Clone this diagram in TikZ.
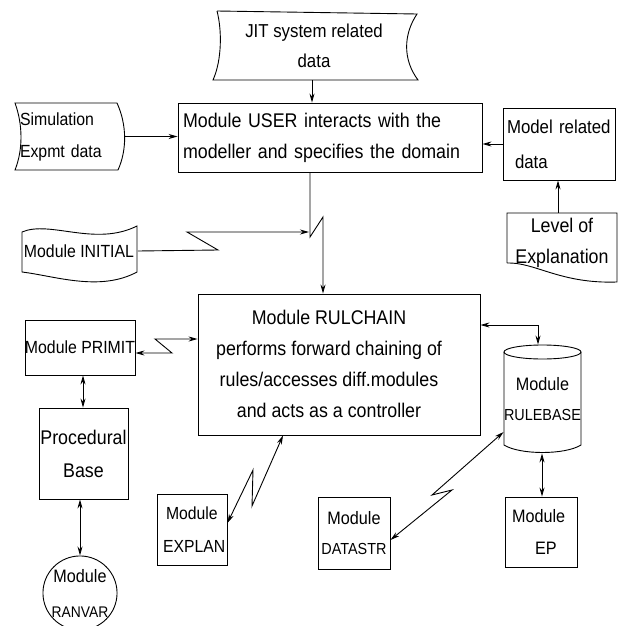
\documentclass[tikz,border=0pt]{standalone}
\usepackage{fontspec}
\setmainfont[FakeStretch=0.9]{Liberation Sans}
\usetikzlibrary{arrows.meta,calc}
\newcommand{\fsz}[1]{\fontsize{#1}{32}\selectfont}
\begin{document}
\begin{tikzpicture}[x=1pt,y=-1pt,line width=0.9pt,
  tip/.tip={Stealth[length=9pt,width=5pt]},
  arr/.style={-tip},
  darr/.style={tip-tip},
  box/.style={draw,rectangle,inner sep=0pt,align=center},
  txt/.style={inner sep=0pt,align=center},
  fa/.style={font=\fontsize{19.8}{31}\selectfont},
  fb/.style={font=\fontsize{18.7}{30}\selectfont},
  fc/.style={font=\fontsize{17.6}{32}\selectfont},
  fe/.style={font=\fontsize{16}{30}\selectfont}]
\useasboundingbox (0,0) rectangle (622,626);

% ---- nodes ----
\node[txt,fb,minimum width=200pt,minimum height=68pt] (jit) at (314,46) {JIT system related\\data};
\node[box,fa,minimum width=304pt,minimum height=69pt,text width=294pt,inner xsep=5pt,align=left] (user) at (330,137.5)
  {Module USER interacts with the\\modeller and specifies the domain};
\node[txt,fc,minimum width=110pt,minimum height=67pt,text width=100pt,inner xsep=5pt,align=left] (sim) at (70,136.5)
  {Simulation\\Expmt data};
\node[box,font=\fontsize{18.7}{35}\selectfont,minimum width=112pt,minimum height=72pt,text width=104pt,inner xsep=4pt,align=left] (model) at (559,144)
  {Model related\\\hspace*{8pt}data};
\node[txt,fa,minimum width=110pt,minimum height=60pt] (level) at (562,243) {Level of\\Explanation};
\node[txt,fc,minimum width=117pt,minimum height=45pt] (initial) at (79,251) {Module INITIAL};
\node[box,fa,minimum width=282pt,minimum height=141pt] (rul) at (339,364.5)
  {\begin{tabular}{@{}c@{}}Module RULCHAIN\\performs forward chaining of\\rules/accesses diff.modules\\and acts as a controller\end{tabular}\hspace*{20pt}};
\node[box,fc,minimum width=110pt,minimum height=55pt] (primit) at (80,347.5) {Module PRIMIT};
\node[box,font=\fontsize{19.8}{33}\selectfont,minimum width=89pt,minimum height=91pt] (proc) at (83.5,453.5) {Procedural\\Base};
\node[draw,circle,txt,font=\fontsize{15.4}{35}\selectfont,minimum size=74pt] (ranvar) at (80,593) {{\fsz{18}Module}\\RANVAR};
\node[box,font=\fontsize{17.5}{33}\selectfont,minimum width=70pt,minimum height=71pt,text width=58pt,inner xsep=6pt,align=left] (explan) at (192,529.5)
  {\hspace*{3pt}Module\\EXPLAN};
\node[box,fe,minimum width=72pt,minimum height=72pt] (datastr) at (354,533) {{\fsz{18}Module}\\DATASTR};
\node[txt,fe,minimum width=77pt,minimum height=108pt] (rulebase) at (542.5,399) {{\fsz{18}Module}\\RULEBASE};
\node[box,font=\fontsize{18}{32}\selectfont,minimum width=72pt,minimum height=70pt,text width=62pt,inner xsep=5pt,align=left] (ep) at (541,532)
  {\hspace*{2pt}Module\\\hspace*{25pt}EP};

% ---- special outlines ----
% JIT (stored data)
\draw (217,11) -- (417,14) .. controls (403,35) and (403,60) .. (418,80)
  -- (213,80) .. controls (222,60) and (222,30) .. (217,11);
% Simulation
\draw (15,103) -- (117,103) .. controls (127,125) and (127,150) .. (118,170)
  -- (15,170) .. controls (23,150) and (23,125) .. cycle;
% Level of Explanation (document)
\draw (507,263) -- (507,213) -- (617,213) -- (617,282)
  .. controls (560,284) and (535,262) .. (507,263);
% Module INITIAL (flag)
\draw (22,232) .. controls (50,220) and (95,247) .. (137,226) -- (137,272)
  .. controls (100,292) and (55,276) .. (22,272) -- cycle;
% RULEBASE cylinder
\draw (504,352) -- (504,445) .. controls (520,455) and (565,455) .. (581,445) -- (581,352);
\draw (542.5,352) ellipse [x radius=38.5pt, y radius=7pt];

% ---- connectors ----
\coordinate (z1) at (310,237);
\coordinate (z2) at (323,217);
\coordinate (jn) at (309,232);
\draw[arr] (jit.south -| 312,0) -- (user.north -| 312,0);
\draw[arr] (sim.east) -- (sim.east -| user.west);
\draw[arr] (model.west) -- (model.west -| user.east);
\draw[arr] (level.north -| 558,0) -- (model.south -| 558,0);
\draw[arr] (user.south -| 310,0) -- (z1) -- (z2) -- (rul.north -| 323,0);
\draw[arr] (initial.east) -- (218,250) -- (187,232) -- (jn);
\draw[darr] (primit.east |- 0,353) -- (172,353) -- (155,339) -- (rul.west |- 0,339);
\draw[darr] (primit.south -| 83,0) -- (proc.north -| 83,0);
\draw[darr] (proc.south -| 80,0) -- (ranvar.north);
\draw[darr] (explan.east |- 0,523) -- (253,470) -- (252,506) -- (rul.south -| 283,0);
\draw[darr] (rul.east |- 0,325) -- (538,325) -- (rulebase.north -| 538,0);
\draw[darr] (datastr.east |- 0,540) -- (452,490) -- (432,495) -- (rulebase.west |- 0,432);
\draw[darr] (rulebase.south -| 542,0) -- (ep.north -| 542,0);
\end{tikzpicture}
\end{document}
